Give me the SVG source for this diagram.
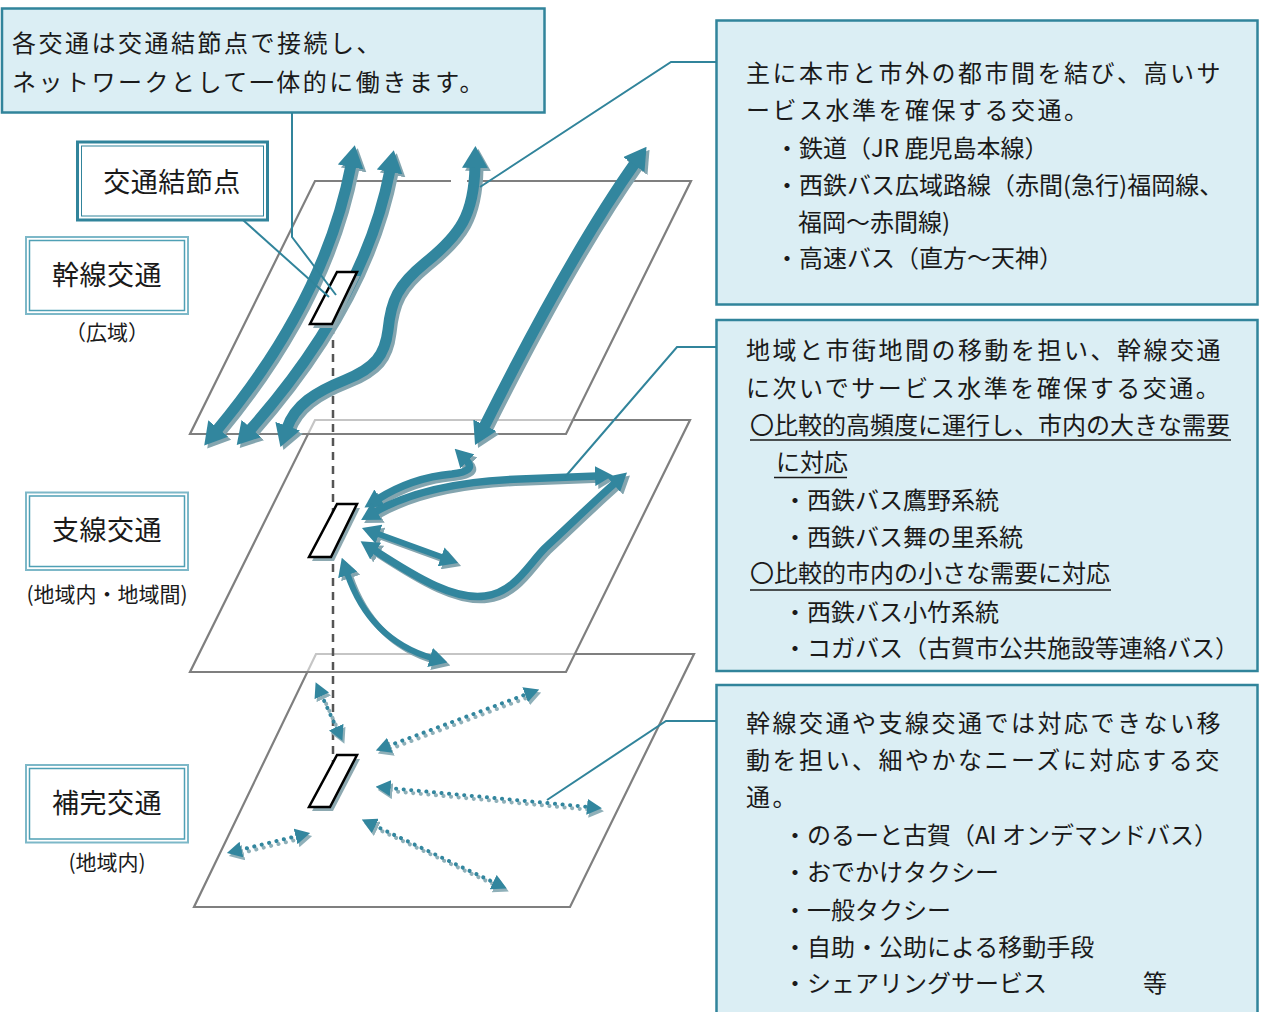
<svg xmlns="http://www.w3.org/2000/svg" width="1261" height="1012" viewBox="0 0 1261 1012">
<style>
  .t{font-family:"Noto Sans CJK JP","Noto Sans",sans-serif;fill:#1a1a1a;}
  .p{font-size:24px;letter-spacing:2.5px;}
  .b{font-size:24px;letter-spacing:0px;}
  .lbl{font-size:27px;letter-spacing:0.5px;text-anchor:middle;}
  .sub{font-size:21px;text-anchor:middle;}
  .plane{fill:#fff;fill-opacity:0.55;stroke:none;}
  .pedge{fill:none;stroke:#7f7f7f;stroke-width:2.2;stroke-linejoin:miter;}
  .info{fill:#dbeef4;stroke:#31849b;stroke-width:2.5;}
  .lead{fill:none;stroke:#31849b;stroke-width:2;}
  .dbl1{fill:#fff;stroke:#7db8c8;stroke-width:2;}
  .dbl2{fill:none;stroke:#4fa0b5;stroke-width:1.5;}
  .a{fill:none;stroke:#32869e;}
  .as{fill:none;stroke:#84a5af;}
  .w1{stroke-width:11;}
  .w2{stroke-width:7.5;}
  .w3{stroke-width:6;}
  .L{marker-start:url(#hL);marker-end:url(#hL);}
  .Ls{marker-start:url(#hLs);marker-end:url(#hLs);}
  .M{marker-start:url(#hM);marker-end:url(#hM);}
  .Ms{marker-start:url(#hMs);marker-end:url(#hMs);}
  .d{fill:none;stroke:#32869e;stroke-width:4;stroke-dasharray:0.1 7.5;stroke-linecap:round;marker-start:url(#hD);marker-end:url(#hD);}
  .ds{fill:none;stroke:#8fb0b9;stroke-width:4;stroke-dasharray:0.1 7.5;stroke-linecap:round;marker-start:url(#hDs);marker-end:url(#hDs);}
  .node{fill:#fff;stroke:#000;stroke-width:2.5;stroke-linejoin:miter;}
  .nshadow{fill:#8da9b1;}
  .ul{stroke:#1a1a1a;stroke-width:1.6;}
</style>
<defs>
  <marker id="hL" viewBox="0 -13 22 26" markerWidth="22" markerHeight="26" refX="2" refY="0" orient="auto-start-reverse" markerUnits="userSpaceOnUse"><path d="M0,-13 L22,0 L0,13 z" fill="#32869e"/></marker>
  <marker id="hLs" viewBox="0 -13 22 26" markerWidth="22" markerHeight="26" refX="2" refY="0" orient="auto-start-reverse" markerUnits="userSpaceOnUse"><path d="M0,-13 L22,0 L0,13 z" fill="#84a5af"/></marker>
  <marker id="hM" viewBox="0 -10 18 20" markerWidth="18" markerHeight="20" refX="2" refY="0" orient="auto-start-reverse" markerUnits="userSpaceOnUse"><path d="M0,-10 L18,0 L0,10 z" fill="#32869e"/></marker>
  <marker id="hMs" viewBox="0 -10 18 20" markerWidth="18" markerHeight="20" refX="2" refY="0" orient="auto-start-reverse" markerUnits="userSpaceOnUse"><path d="M0,-10 L18,0 L0,10 z" fill="#84a5af"/></marker>
  <marker id="hD" viewBox="0 -8 15 16" markerWidth="15" markerHeight="16" refX="2" refY="0" orient="auto-start-reverse" markerUnits="userSpaceOnUse"><path d="M0,-8 L15,0 L0,8 z" fill="#32869e"/></marker>
  <marker id="hDs" viewBox="0 -8 15 16" markerWidth="15" markerHeight="16" refX="2" refY="0" orient="auto-start-reverse" markerUnits="userSpaceOnUse"><path d="M0,-8 L15,0 L0,8 z" fill="#8fb0b9"/></marker>
</defs>

<g id="planes">
  <g id="plane-hokan">
    <polygon class="plane" points="316,654 694,654 570,907 194,907"/>
    <polygon class="pedge" points="316,654 694,654 570,907 194,907"/>
  </g>
  <g id="plane-shisen">
    <polygon class="plane" points="315,420 690,420 566,672 190,672"/>
    <polygon class="pedge" points="315,420 690,420 566,672 190,672"/>
  </g>
  <g id="plane-kansen">
    <polygon class="plane" points="315,181 691,181 566,434 190,434"/>
    <polyline class="pedge" points="451,181 315,181 190,434 566,434 691,181 467,181"/>
  </g>
</g>

<g id="connectors">
  <line id="vertical-link" x1="333" y1="326" x2="333" y2="775" stroke="#555" stroke-width="2.5" stroke-dasharray="8 6"/>
  <g id="kansen-arrows">
    <g transform="translate(3,3)">
      <path class="as w1 Ls" d="M217,430 Q325,300 351,165"/>
      <path class="as w1 Ls" d="M250,430 Q365,300 390,170"/>
      <path class="as w1 Ls" d="M287,428 C295,405 315,392 345,380 C375,368 385,355 388,330 C391,300 398,285 425,263 C460,235 474,215 475,166"/>
      <path class="as w1 Ls" d="M484,427 Q570,255 635,163"/>
    </g>
    <path class="a w1 L" d="M217,430 Q325,300 351,165"/>
    <path class="a w1 L" d="M250,430 Q365,300 390,170"/>
    <path class="a w1 L" d="M287,428 C295,405 315,392 345,380 C375,368 385,355 388,330 C391,300 398,285 425,263 C460,235 474,215 475,166"/>
    <path class="a w1 L" d="M484,427 Q570,255 635,163"/>
  </g>
  <g id="shisen-arrows">
    <g transform="translate(3,3)">
      <path class="as w2 Ms" d="M378,499 C405,482 430,476 452,474 C468,472 474,468 466,460"/>
      <path class="as w2 Ms" d="M375,512 C410,492 460,481 520,479 L597,476"/>
      <path class="as w2 Ms" d="M374,550 C420,580 455,600 485,596 C515,592 528,565 545,548 C570,525 590,505 615,483"/>
      <path class="as w3 Ms" d="M377,533.5 L443,557.5"/>
      <path class="as w3 Ms" d="M347,573 Q370,640 432,658"/>
    </g>
    <path class="a w2 M" d="M378,499 C405,482 430,476 452,474 C468,472 474,468 466,460"/>
    <path class="a w2 M" d="M375,512 C410,492 460,481 520,479 L597,476"/>
    <path class="a w2 M" d="M374,550 C420,580 455,600 485,596 C515,592 528,565 545,548 C570,525 590,505 615,483"/>
    <path class="a w3 M" d="M377,533.5 L443,557.5"/>
    <path class="a w3 M" d="M347,573 Q370,640 432,658"/>
  </g>
  <g id="hokan-arrows">
    <g transform="translate(2,3)">
      <line class="ds" x1="321" y1="694" x2="337" y2="729"/>
      <line class="ds" x1="388" y1="746" x2="527" y2="694"/>
      <line class="ds" x1="388.5" y1="788" x2="589" y2="807"/>
      <line class="ds" x1="373.5" y1="825" x2="495" y2="883"/>
      <line class="ds" x1="239.5" y1="850" x2="297.5" y2="836"/>
    </g>
    <line class="d" x1="321" y1="694" x2="337" y2="729"/>
    <line class="d" x1="388" y1="746" x2="527" y2="694"/>
    <line class="d" x1="388.5" y1="788" x2="589" y2="807"/>
    <line class="d" x1="373.5" y1="825" x2="495" y2="883"/>
    <line class="d" x1="239.5" y1="850" x2="297.5" y2="836"/>
  </g>
</g>

<g id="node-kansen">
  <polygon class="nshadow" points="340,276 360,276 335,328 313,328"/>
  <polygon class="node" points="337,272 357,272 332,324 310,324"/>
</g>
<g id="node-shisen">
  <polygon class="nshadow" points="340,508 360,508 334,561 312,561"/>
  <polygon class="node" points="337,504 357,504 331,557 309,557"/>
</g>
<g id="node-hokan">
  <polygon class="nshadow" points="340,759 360,759 333,811 312,811"/>
  <polygon class="node" points="337,755 357,755 330,807 309,807"/>
</g>

<g id="leaders">
  <polyline class="lead" points="292,113 292,237 336,295"/>
  <line class="lead" x1="243" y1="220" x2="329" y2="297"/>
  <polyline class="lead" points="716,62 671,62 480,187"/>
  <polyline class="lead" points="716,347 677,347 565,477"/>
  <polyline class="lead" points="716,721 666,721 547,800"/>
</g>

<g id="callout-network">
  <rect class="info" x="2" y="8.5" width="542.5" height="104"/>
  <text class="t" x="12" y="52" font-size="24" letter-spacing="2.5">各交通は交通結節点で接続し、</text>
  <text class="t" x="12" y="91" font-size="24" letter-spacing="2.5">ネットワークとして一体的に働きます。</text>
</g>

<g id="label-node">
  <rect x="77.5" y="142" width="190" height="78" fill="#fff" stroke="#31849b" stroke-width="3"/>
  <rect x="81.5" y="146" width="182" height="70" fill="none" stroke="#31849b" stroke-width="1"/>
  <text class="t lbl" x="172" y="192">交通結節点</text>
</g>

<g id="label-kansen">
  <rect class="dbl1" x="26" y="237" width="162" height="77"/>
  <rect class="dbl2" x="29.5" y="240.5" width="155" height="70"/>
  <text class="t lbl" x="107" y="285">幹線交通</text>
  <text class="t sub" x="107" y="340">（広域）</text>
</g>

<g id="label-shisen">
  <rect class="dbl1" x="26" y="492.5" width="162" height="77.5"/>
  <rect class="dbl2" x="29.5" y="496" width="155" height="70.5"/>
  <text class="t lbl" x="107" y="540">支線交通</text>
  <text class="t sub" x="107" y="602">(地域内・地域間)</text>
</g>

<g id="label-hokan">
  <rect class="dbl1" x="26" y="765" width="162" height="77.5"/>
  <rect class="dbl2" x="29.5" y="768.5" width="155" height="70.5"/>
  <text class="t lbl" x="107" y="813">補完交通</text>
  <text class="t sub" x="107" y="870">(地域内)</text>
</g>

<g id="info-kansen">
  <rect class="info" x="716.5" y="20.5" width="541" height="284"/>
  <text class="t p" x="746" y="82">主に本市と市外の都市間を結び、高いサ</text>
  <text class="t p" x="746" y="119">ービス水準を確保する交通。</text>
  <text class="t b" x="775" y="157">・鉄道（JR 鹿児島本線）</text>
  <text class="t b" x="775" y="194">・西鉄バス広域路線（赤間(急行)福岡線、</text>
  <text class="t b" x="798" y="231">福岡〜赤間線)</text>
  <text class="t b" x="775" y="267">・高速バス（直方〜天神）</text>
</g>

<g id="info-shisen">
  <rect class="info" x="716.5" y="320" width="541" height="351"/>
  <text class="t p" x="746" y="359">地域と市街地間の移動を担い、幹線交通</text>
  <text class="t p" x="746" y="397">に次いでサービス水準を確保する交通。</text>
  <text class="t b" x="750" y="434">〇比較的高頻度に運行し、市内の大きな需要</text>
  <line class="ul" x1="750" y1="440" x2="1231" y2="440"/>
  <text class="t b" x="776" y="471">に対応</text>
  <line class="ul" x1="774" y1="477.5" x2="847" y2="477.5"/>
  <text class="t b" x="783" y="509">・西鉄バス鷹野系統</text>
  <text class="t b" x="783" y="546">・西鉄バス舞の里系統</text>
  <text class="t b" x="750" y="582">〇比較的市内の小さな需要に対応</text>
  <line class="ul" x1="750" y1="590" x2="1111" y2="590"/>
  <text class="t b" x="783" y="621">・西鉄バス小竹系統</text>
  <text class="t b" x="783" y="657">・コガバス（古賀市公共施設等連絡バス）</text>
</g>

<g id="info-hokan">
  <rect class="info" x="716.5" y="685" width="541" height="340"/>
  <text class="t p" x="746" y="732">幹線交通や支線交通では対応できない移</text>
  <text class="t p" x="746" y="769">動を担い、細やかなニーズに対応する交</text>
  <text class="t p" x="746" y="806">通。</text>
  <text class="t b" x="783" y="844">・のるーと古賀（AI オンデマンドバス）</text>
  <text class="t b" x="783" y="881">・おでかけタクシー</text>
  <text class="t b" x="783" y="919">・一般タクシー</text>
  <text class="t b" x="783" y="956">・自助・公助による移動手段</text>
  <text class="t b" x="783" y="992">・シェアリングサービス</text>
  <text class="t b" x="1143" y="992">等</text>
</g>
</svg>
